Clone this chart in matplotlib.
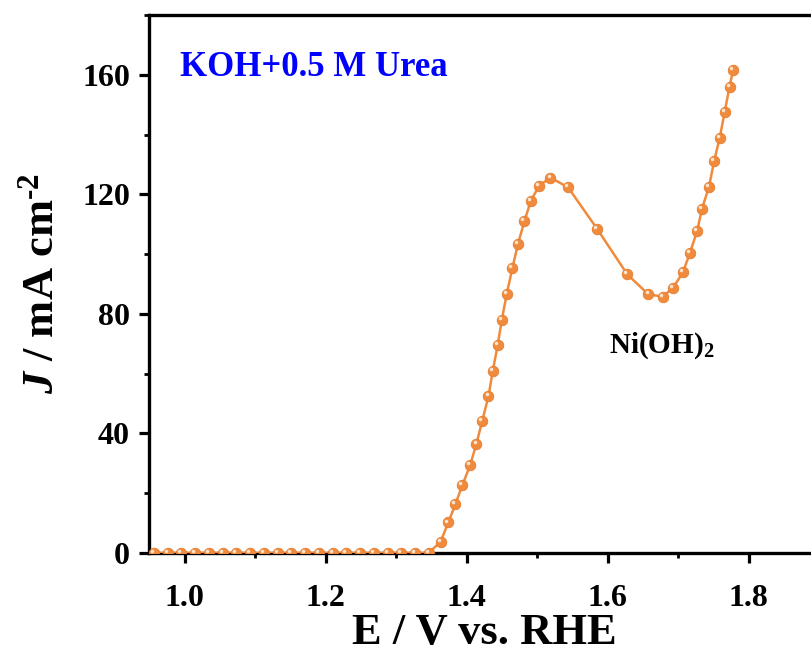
import matplotlib
matplotlib.use("Agg")
import matplotlib.pyplot as plt
import matplotlib.transforms as mtransforms
from matplotlib.ticker import MultipleLocator

# LSV of Ni(OH)2 in KOH + 0.5 M urea
E_rhe = [0.956, 0.976, 0.995, 1.015, 1.034, 1.054, 1.073, 1.093, 1.112, 1.132,
         1.151, 1.171, 1.190, 1.210, 1.229, 1.249, 1.268, 1.288, 1.307, 1.327,
         1.346, 1.363, 1.374, 1.384, 1.394, 1.405, 1.414, 1.422, 1.431, 1.437,
         1.444, 1.450, 1.457, 1.465, 1.473, 1.482, 1.491, 1.503, 1.519, 1.544,
         1.585, 1.628, 1.658, 1.678, 1.693, 1.707, 1.717, 1.727, 1.734, 1.744,
         1.751, 1.759, 1.766, 1.773, 1.778]
J_cur = [0, 0, 0, 0, 0, 0, 0, 0, 0, 0,
         0, 0, 0, 0, 0, 0, 0, 0, 0, 0,
         0, 3.7, 10.2, 16.3, 22.7, 29.4, 36.6, 44.1, 52.4, 60.8,
         69.5, 78.1, 86.8, 95.4, 103.5, 111.0, 117.8, 122.9, 125.6, 122.3,
         108.5, 93.2, 86.5, 85.8, 88.7, 94.0, 100.5, 107.7, 115.2, 122.6,
         131.0, 138.8, 147.4, 156.0, 161.5]

x_ticks = [1.0, 1.2, 1.4, 1.6, 1.8]
y_ticks = [0, 40, 80, 120, 160]

plt.rcParams['font.family'] = ['Liberation Serif', 'DejaVu Serif']
plt.rcParams['font.weight'] = 'bold'
plt.rcParams['mathtext.fontset'] = 'custom'
plt.rcParams['mathtext.rm'] = 'Liberation Serif:bold'
plt.rcParams['mathtext.bf'] = 'Liberation Serif:bold'
plt.rcParams['mathtext.it'] = 'Liberation Serif:italic:bold'

orange = '#F08A3C'

fig = plt.figure(figsize=(8.11, 6.66), dpi=100)
ax = fig.add_axes([0.1843, 0.1697, 0.8256, 0.8078])

ax.plot(E_rhe, J_cur, color=orange, lw=1.8, marker='o', ms=7.6,
        mfc=orange, mec='#E57E30', mew=0.6, zorder=3)
# small highlight on each ball
shine = mtransforms.ScaledTranslation(-1.4 / 72, 1.4 / 72, fig.dpi_scale_trans)
ax.plot(E_rhe, J_cur, ls='none', marker='o', ms=2.6, mfc='#FCE3CC',
        mec='none', transform=ax.transData + shine, zorder=4)

ax.set_xlim(0.95, 1.9)
ax.set_ylim(0, 180)
ax.set_xticks(x_ticks)
ax.set_yticks(y_ticks)
ax.xaxis.set_minor_locator(MultipleLocator(0.1))
ax.yaxis.set_minor_locator(MultipleLocator(20))

for sp in ax.spines.values():
    sp.set_linewidth(2.4)

ax.tick_params(which='major', direction='out', length=7, width=2.3,
               labelsize=23, pad=7)
ax.tick_params(which='minor', direction='out', length=3.8, width=2.0)
ax.tick_params(axis='x', which='major', pad=15)

ax.set_xlabel('E / V vs. RHE', fontsize=32, fontweight='bold', labelpad=0)
ax.set_ylabel('$\\mathit{J}$ / mA cm$^{\\mathbf{\u20102}}$', fontsize=32,
              fontweight='bold', labelpad=14)

ax.text(180 / 811, 1 - 68 / 666, 'KOH+0.5 M Urea', transform=fig.transFigure,
        color='#0000FF', fontsize=25, fontweight='bold', va='center', ha='left')
ax.text(1.602, 69.5, r'Ni(OH)$_\mathbf{2}$', fontsize=21, fontweight='bold',
        va='center', ha='left')

fig.savefig('out.png', dpi=100)
